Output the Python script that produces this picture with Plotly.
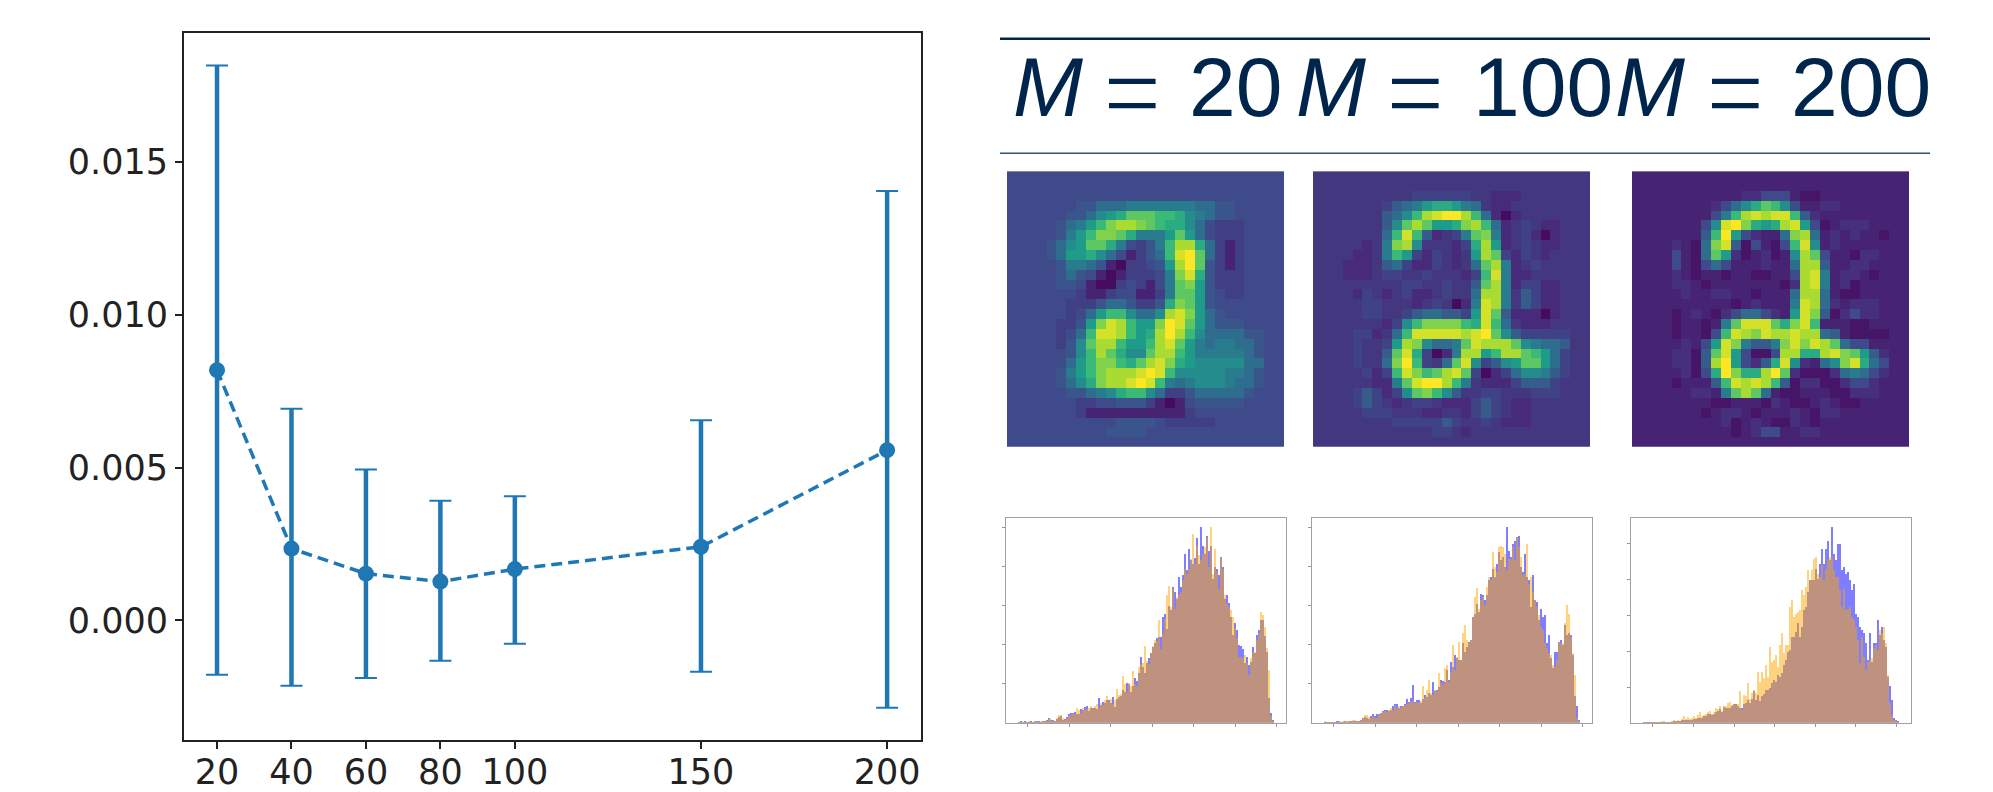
import plotly.graph_objects as go

W, H = 1993, 792

# ---- left chart data ----
M_VALUES = [20, 40, 60, 80, 100, 150, 200]
MEANS = [0.00819, 0.00235, 0.00153, 0.00127, 0.00168, 0.00241, 0.00557]
ERR_TOP = [0.01816, 0.00693, 0.00494, 0.00392, 0.00406, 0.00655, 0.01405]
ERR_BOTTOM = [-0.00178, -0.00214, -0.00188, -0.00132, -0.00076, -0.00168, -0.00286]
Y_TICKS = [0.0, 0.005, 0.01, 0.015]
Y_LABELS = ["0.000", "0.005", "0.010", "0.015"]

# ---- reconstructions: rows of colour levels 0-f ----
IMG_20 = [
"3"*28, "3"*28, "3"*28,
"3333333445556666666554433333",
"333333445789bbbaa976544",
"333334568acddcba99753222",
"33333468accb96668b853222",
"33334578bb963246add95212",
"33334588975312"+"45aefb5212",
"33333466541022348dfb4212",
"33333454310122236ce94222",
"33333443100232136bc84222",
"33333332112331126bb84322",
"33333322245542249cb8433",
"3333332358aa7557dec8543",
"333332248ceda88cfeb85444",
"33333235aeeda89dfda7555544",
"33333247bdda88adeb86566554",
"33333347adb977bdda86666654",
"33333358acca9bdec987777755",
"33333468acdddefea777776654",
"333334579cddefea6567776554",
"33333344567"+"9aa75224555554",
"33333"+"33223344421"+"01344444",
"33333332111111111123",
"333333333334444322222",
"33333333334444",
"3"*28,
]
IMG_100 = [
"2"*28, "2"*28,
"2222222222333333"+"22111",
"22222223456899865"+"2112",
"2222222457adeffda5101",
"222222247bdb889cda5123211",
"22222225aea41236bc6123101",
"22222126cd7222139d8123211",
"22221126a83132128db313212",
"2221112"+"453113212"+"5bd612322",
"22211123322322213ae611222",
"22222222233223224bd613311",
"22221321231123225dd624311",
"22222332221232016ed624311",
"22222332234554438eb411101",
"2222222137acccca9ea5211122",
"222233125aeeeeedefb7433333",
"222232238dc7556bedddb76554",
"2222322"+"4be93016dd8addba853",
"2222322"+"5cfa325be73478bb853",
"2222231"+"3aecabdeb3013577643",
"2222221"+"16beffda6211134443",
"2222343"+"137bca742233222333",
"2222343"+"2123321113432112",
"2222233"+"322211221343211",
"22222222"+"33333432232111",
"222222222222"+"3321",
"2"*28,
]
IMG_200 = [
"1"*28, "1"*28,
"1111111111"+"1223331001",
"1111111"+"123579ba731122",
"1111111"+"136adedeea421",
"1111111"+"37efc989de83012221",
"1111111"+"4af832115cd51212110",
"1111210"+"5ce403103ae71211",
"1111310"+"5b82012017db311022",
"1111310"+"3531112115dd41122",
"1111210"+"1101100113de612210",
"1111221"+"0111111102de61201",
"1111121"+"1221101115dd51001",
"1111111111"+"0121116ed521222",
"1111012"+"1023553218ec402322",
"1111011"+"016beeeb9cea1110011",
"1111011"+"03aedceddedd5410000",
"1111121"+"38ec6446cecedb53311",
"1111220"+"4be83003dd99decb842",
"1111220"+"4df83249e72157ce953",
"1111120"+"39fc99dfb2000256532",
"1111011"+"14aededa4022002332",
"1111112"+"216bdb510011100222",
"1111111"+"10011102100121001",
"1111111"+"012210111210221",
"11111111"+"120121002101",
"1111111111"+"012331122",
"1"*28,
]

# ---- histograms: bar heights ----
H20_BLUE = [2,3,1,3,2,1,3,1,4,5,3,2,5,7,9,14,8,10,6,12,18,20,10,12,17,28,30,30,32,28,26,42,38,48,50,36,44,46,44,42,75,55,62,60,68,70,60,78,48,72,78,82,100,92,120,118,92,110,135,128,150,198,168,150,180,195,210,228,242,255,258,258,320,328,282,352,342,410,395,375,440,410,445,510,460,525,490,480,498,558,480,590,535,510,565,520,535,435,470,465,445,500,470,375,385,362,320,265,300,280,235,232,222,182,200,175,185,228,210,265,280,310,310,262,215,75,30,8]
H20_ORANGE = [1,2,1,1,2,3,2,1,3,4,2,3,4,5,6,11,12,7,5,14,24,25,14,10,14,22,24,28,26,45,40,30,44,40,42,44,50,42,50,56,45,60,55,70,80,62,72,58,68,102,84,88,142,118,92,122,112,158,118,112,170,178,180,232,188,178,212,232,250,248,310,222,268,312,385,412,350,405,345,380,385,395,430,465,450,465,495,570,478,535,505,490,510,530,562,470,590,450,525,455,405,500,465,385,360,350,340,320,285,255,200,200,195,205,180,145,195,215,215,250,270,335,325,290,225,160,22,4]
H100_BLUE = [1,1,1,1,1,2,3,3,2,2,3,2,3,4,5,6,5,6,10,15,18,16,13,20,26,22,26,28,30,35,38,40,36,38,50,56,58,46,52,50,58,72,62,74,115,62,68,68,60,72,85,78,90,85,125,95,100,108,130,128,125,160,130,185,170,205,195,190,190,240,215,230,245,250,320,330,360,335,390,385,370,385,430,440,465,440,480,515,490,500,470,590,520,500,540,550,560,565,470,455,510,440,430,350,445,370,365,310,345,320,325,240,265,195,165,215,215,245,250,235,295,265,270,265,205,80,50,10]
H100_ORANGE = [3,1,1,1,1,2,2,3,2,4,3,3,3,3,9,10,6,3,8,15,24,24,18,16,20,16,14,26,30,34,36,34,38,46,40,50,44,50,46,52,54,56,60,62,66,60,62,60,66,110,75,100,130,90,85,100,95,150,120,115,165,175,125,155,235,160,200,245,190,270,295,250,240,250,320,380,408,345,370,380,355,410,440,430,515,470,455,530,535,530,510,460,495,495,530,490,560,530,500,445,450,540,420,440,395,370,350,325,290,280,240,225,210,205,175,170,190,245,240,240,300,355,330,260,210,145,15,3]
H200_BLUE = [1,1,1,1,1,1,1,1,1,1,1,1,1,1,2,4,3,5,6,8,9,8,10,10,9,13,12,14,16,16,22,20,28,26,24,28,32,36,42,34,48,46,44,46,50,58,56,52,44,46,58,60,70,60,72,95,70,85,65,80,88,100,100,105,120,130,125,145,140,150,175,190,215,220,260,260,275,300,260,290,340,350,395,430,430,430,465,435,480,525,480,525,550,490,590,510,490,540,540,460,470,450,455,430,400,420,330,320,290,280,270,240,190,270,185,240,240,310,265,290,250,230,140,110,70,15,10,4]
H200_ORANGE = [1,1,1,1,1,1,1,1,1,5,3,1,1,2,5,8,5,10,6,12,20,12,17,12,16,20,15,24,34,20,24,26,32,36,28,34,44,42,50,36,50,50,60,62,54,56,55,58,95,40,85,82,120,72,90,100,90,155,125,155,135,175,140,228,185,190,205,170,235,270,210,235,235,350,370,320,330,335,340,400,385,410,460,430,460,495,500,450,440,475,430,465,490,500,500,460,440,440,400,350,405,340,345,350,320,310,290,250,180,260,200,160,185,190,195,225,235,220,280,270,290,240,145,60,25,8,3,1]
HIST_XTICKS = [[4.33 + 20.72 * k for k in range(7)],
               [4.33 + 20.72 * k for k in range(7)],
               [4.33 + 20.3 * k for k in range(7)]]
HIST_YTICKS = [[117.5 * k for k in range(1, 6)],
               [117.5 * k for k in range(1, 6)],
               [108 * k for k in range(1, 6)]]

NAVY = "#00254d"
BLUE = "#1f77b4"


def fx(px):
    return px / W


def fy(px):
    return 1 - px / H


def soften(level, bg):
    # levels one step from the flat background read as subtler than a full step
    if abs(level - bg) == 1:
        return bg + (level - bg) * 0.6
    return level


def matrix(rows):
    bg = int(rows[0][0], 16)
    return [[soften(int(c, 16), bg) for c in r.ljust(28, rows[0][0])[:28]] for r in rows]


fig = go.Figure()

errs_up = [t - m for t, m in zip(ERR_TOP, MEANS)]
errs_dn = [m - b for b, m in zip(ERR_BOTTOM, MEANS)]
fig.add_trace(go.Scatter(x=M_VALUES, y=MEANS, mode="markers", marker=dict(size=0.1, color=BLUE),
                         error_y=dict(type="data", symmetric=False, array=errs_up, arrayminus=errs_dn,
                                      thickness=2, width=11, color=BLUE),
                         xaxis="x", yaxis="y", showlegend=False))
fig.add_trace(go.Scatter(x=M_VALUES, y=MEANS, mode="lines+markers",
                         line=dict(color=BLUE, width=3.5, dash="11px,6px"),
                         marker=dict(size=16, color=BLUE),
                         error_y=dict(type="data", symmetric=False, array=errs_up, arrayminus=errs_dn,
                                      thickness=4.5, width=0, color=BLUE),
                         xaxis="x", yaxis="y", showlegend=False))

layout = dict(
    width=W, height=H, autosize=False,
    margin=dict(l=0, r=0, t=0, b=0),
    paper_bgcolor="white", plot_bgcolor="white",
    barmode="overlay", bargap=0, showlegend=False,
    xaxis=dict(domain=[fx(184), fx(921)], range=[11.13, 209.1], tickmode="array",
               tickvals=M_VALUES, ticktext=[str(v) for v in M_VALUES], ticks="outside", ticklen=7,
               tickwidth=1.5, tickcolor="#222", showline=True, mirror=True, linecolor="#222", linewidth=2,
               showgrid=False, zeroline=False, anchor="y", ticklabelstandoff=-7,
               tickfont=dict(family="DejaVu Sans", size=35, color="#222")),
    yaxis=dict(domain=[fy(744), fy(33.5)], range=[-0.00392, 0.01921], tickmode="array",
               tickvals=Y_TICKS, ticktext=Y_LABELS, ticks="outside", ticklen=7,
               tickwidth=1.5, tickcolor="#222", showline=True, mirror=True, linecolor="#222", linewidth=2,
               showgrid=False, zeroline=False, anchor="x",
               tickfont=dict(family="DejaVu Sans", size=35, color="#222")),
)

# heatmaps
img_left = [1007, 1313, 1632]
for k, (rows, left) in enumerate(zip([IMG_20, IMG_100, IMG_200], img_left)):
    n = k + 2
    fig.add_trace(go.Heatmap(z=matrix(rows), colorscale="Viridis", zmin=-0.5, zmax=15, showscale=False,
                             xaxis=f"x{n}", yaxis=f"y{n}"))
    layout[f"xaxis{n}"] = dict(domain=[fx(left), fx(left + 277)], visible=False, range=[-0.5, 27.5], anchor=f"y{n}")
    layout[f"yaxis{n}"] = dict(domain=[fy(449), fy(172)], visible=False, range=[27.5, -0.5], anchor=f"x{n}")

# histograms
hist_left = [1006.3, 1312.3, 1631.3]
series = [(H20_BLUE, H20_ORANGE), (H100_BLUE, H100_ORANGE), (H200_BLUE, H200_ORANGE)]
for k, ((blue, orange), left) in enumerate(zip(series, hist_left)):
    n = k + 5
    bins = list(range(len(blue)))
    fig.add_trace(go.Bar(x=bins, y=blue, width=1, marker=dict(color="rgb(0,0,255)", line=dict(width=0)),
                         opacity=0.5, xaxis=f"x{n}", yaxis=f"y{n}"))
    fig.add_trace(go.Bar(x=bins, y=orange, width=1, marker=dict(color="rgb(255,165,0)", line=dict(width=0)),
                         opacity=0.5, xaxis=f"x{n}", yaxis=f"y{n}"))
    common = dict(showline=True, mirror=True, linecolor="#a0a0a0", linewidth=1.2, showgrid=False, zeroline=False,
                  ticks="outside", ticklen=3, tickwidth=1, tickcolor="#999", showticklabels=False, tickmode="array")
    layout[f"xaxis{n}"] = dict(domain=[fx(left), fx(left + 280)], range=[-6.5, 133.5],
                               tickvals=HIST_XTICKS[k], anchor=f"y{n}", **common)
    layout[f"yaxis{n}"] = dict(domain=[fy(726.5), fy(520.5)], range=[0, 618],
                               tickvals=HIST_YTICKS[k], anchor=f"x{n}", **common)

# header table
annots = []
header = [("<i>M</i>", 1012, 84), ("20", 1188, 84),
          ("<i>M</i>", 1295, 84), ("100", 1472, 84),
          ("<i>M</i>", 1614, 84), ("200", 1790, 84)]
for text, x, size in header:
    annots.append(dict(text=text, x=fx(x), y=fy(87.5), xref="paper", yref="paper", xanchor="left", yanchor="middle",
                       showarrow=False, align="left", borderpad=0,
                       font=dict(family="Liberation Sans", size=size, color=NAVY)))
for x in (1091, 1374, 1694):
    annots.append(dict(text="=", x=fx(x), y=fy(84), xref="paper", yref="paper", xanchor="left", yanchor="middle",
                       showarrow=False, align="left", borderpad=0,
                       font=dict(family="Inter", size=125, color=NAVY, weight=200)))
layout["annotations"] = annots
layout["shapes"] = [
    dict(type="line", xref="paper", yref="paper", x0=fx(1000), x1=fx(1930), y0=fy(39), y1=fy(39),
         line=dict(color=NAVY, width=2.5)),
    dict(type="line", xref="paper", yref="paper", x0=fx(1000), x1=fx(1930), y0=fy(154), y1=fy(154),
         line=dict(color="#33506f", width=1.5)),
]
fig.update_layout(**layout)
fig.write_html("out.html", post_script="document.body.style.margin='0';", config={"displayModeBar": False})
